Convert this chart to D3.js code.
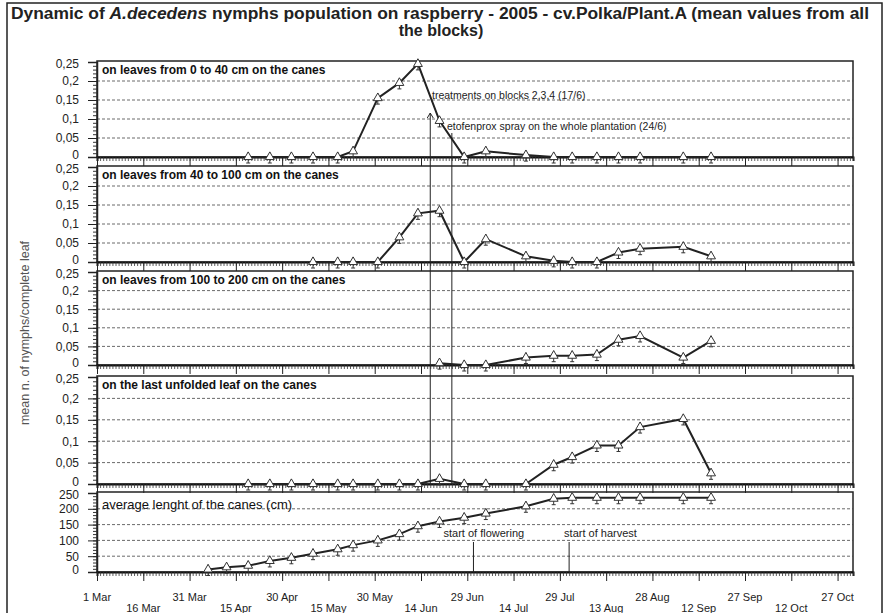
<!DOCTYPE html>
<html>
<head>
<meta charset="utf-8">
<script src="https://cdn.jsdelivr.net/npm/d3@7"></script>
<style>
  body { margin: 0; background: #fff; }
  text { font-family: "Liberation Sans", Arial, sans-serif; }
</style>
</head>
<body>
<div id="chart"></div>
<script>
// sampling dates (2005)
const sampleDates = ["2005-04-06","2005-04-12","2005-04-19","2005-04-26","2005-05-03","2005-05-10",
  "2005-05-18","2005-05-23","2005-05-31","2005-06-07","2005-06-13","2005-06-20","2005-06-28",
  "2005-07-05","2005-07-18","2005-07-27","2005-08-02","2005-08-10","2005-08-17","2005-08-24",
  "2005-09-07","2005-09-16"];

// mean n. of nymphs per leaf, by leaf position (null = not sampled)
const leaves0to40   = [null,null,0,0,0,0,0,0.015,0.155,0.195,0.245,0.095,0,0.015,0.005,0,0,0,0,0,0,0];
const leaves40to100 = [null,null,null,null,null,0,0,0,0,0.065,0.128,0.135,0,0.06,0.015,0.003,0,0,0.025,0.035,0.04,0.015];
const leaves100to200 = [null,null,null,null,null,null,null,null,null,null,null,0.005,0,0,0.02,0.025,0.025,0.028,0.068,0.078,0.02,0.065];
const lastLeaf      = [null,null,0,0,0,0,0,0,0,0,0,0.012,0,0,0,0.045,0.063,0.09,0.09,0.133,0.152,0.025];
// average length of the canes (cm)
const caneLength    = [8,15,20,35,45,58,72,85,100,120,145,160,172,185,208,232,235,235,235,235,235,235];

const tickLabels = ["1 Mar","16 Mar","31 Mar","15 Apr","30 Apr","15 May","30 May","14 Jun","29 Jun",
  "14 Jul","29 Jul","13 Aug","28 Aug","12 Sep","27 Sep","12 Oct","27 Oct"];

const nymphTicks = [0, 0.05, 0.1, 0.15, 0.2, 0.25];
const caneTicks = [0, 50, 100, 150, 200, 250];

const treatmentDates = ["2005-06-17", "2005-06-24"];
const phenologyDates = ["2005-07-01", "2005-08-01"];

const parse = d3.utcParse("%Y-%m-%d");
const start = parse("2005-03-01");

const width = 887, height = 613;
const svg = d3.select("#chart").append("svg")
  .attr("width", width).attr("height", height);

// outer frame
svg.append("rect")
  .attr("x", 7).attr("y", 3).attr("width", 875).attr("height", 620)
  .attr("fill", "none").attr("stroke", "#222").attr("stroke-width", 1.5);

// title
const title = svg.append("text")
  .attr("x", 440).attr("y", 19).attr("text-anchor", "middle")
  .attr("textLength", 858).attr("lengthAdjust", "spacingAndGlyphs")
  .style("font-size", "16px").style("font-weight", "bold").attr("fill", "#222");
title.append("tspan").text("Dynamic of ");
title.append("tspan").style("font-style", "italic").text("A.decedens");
title.append("tspan").text(" nymphs population on raspberry - 2005 - cv.Polka/Plant.A (mean values from all");
svg.append("text")
  .attr("x", 441).attr("y", 36).attr("text-anchor", "middle")
  .style("font-size", "16px").style("font-weight", "bold").attr("fill", "#222")
  .text("the blocks)");

const x = d3.scaleUtc()
  .domain([start, d3.utcDay.offset(start, 245)])
  .range([97, 853]);

const dayTicks = d3.range(0, 246).map(i => d3.utcDay.offset(start, i));
const majorTicks = tickLabels.map((l, i) => d3.utcDay.offset(start, i * 15));

const panels = [
  {label: "on leaves from 0 to 40 cm on the canes", values: leaves0to40, top: 62, bottom: 157, max: 0.25, ticks: nymphTicks, bold: true},
  {label: "on leaves from 40 to 100 cm on the canes", values: leaves40to100, top: 167, bottom: 262, max: 0.25, ticks: nymphTicks, bold: true},
  {label: "on leaves from 100 to 200 cm on the canes", values: leaves100to200, top: 272, bottom: 365, max: 0.25, ticks: nymphTicks, bold: true},
  {label: "on the last unfolded leaf on the canes", values: lastLeaf, top: 377, bottom: 484, max: 0.25, ticks: nymphTicks, bold: true},
  {label: "average lenght of the canes (cm)", values: caneLength, top: 493, bottom: 572, max: 250, ticks: caneTicks, bold: false}
];

const fmt = d => d === 0 ? "0" : String(d).replace(".", ",");

panels.forEach((p, pi) => {
  const y = d3.scaleLinear().domain([0, p.max]).range([p.bottom, p.top]);
  const g = svg.append("g");

  // frame
  g.append("rect")
    .attr("x", x.range()[0]).attr("y", p.top - 1)
    .attr("width", x.range()[1] - x.range()[0]).attr("height", p.bottom - p.top + 1)
    .attr("fill", "none").attr("stroke", "#222").attr("stroke-width", 1.5);

  // dashed grid
  g.selectAll(".grid").data(p.ticks.slice(1, -1)).enter().append("line")
    .attr("x1", x.range()[0]).attr("x2", x.range()[1])
    .attr("y1", d => y(d)).attr("y2", d => y(d))
    .attr("stroke", "#444").attr("stroke-width", 0.8).attr("stroke-dasharray", "3,2");

  // y axis: minor ruler + major ticks
  const minor = d3.range(0, p.max + p.max / 1000, p.max / 25);
  g.append("g").attr("transform", `translate(${x.range()[0]},0)`)
    .call(d3.axisLeft(y).tickValues(minor).tickSize(4).tickFormat(""))
    .call(a => a.select(".domain").remove())
    .selectAll("line").attr("stroke", "#333");
  g.append("g").attr("transform", `translate(${x.range()[0]},0)`)
    .call(d3.axisLeft(y).tickValues(p.ticks).tickSize(9).tickPadding(9).tickFormat(fmt))
    .call(a => a.select(".domain").attr("stroke", "#222").attr("stroke-width", 1.5))
    .call(a => a.selectAll("text").style("font-size", "12px").attr("fill", "#222")
      .style("font-family", "'Liberation Sans', Arial, sans-serif")
      .attr("dy", d => d === 0 ? "0.12em" : (d === p.max ? "0.48em" : "0.32em")))
    .selectAll("line").attr("stroke", "#222");

  // x axis ruler
  g.append("g").attr("transform", `translate(0,${p.bottom})`)
    .call(d3.axisBottom(x).tickValues(dayTicks).tickSize(4).tickFormat(""))
    .call(a => a.select(".domain").attr("stroke", "#111").attr("stroke-width", 2))
    .selectAll("line").attr("stroke", "#333").attr("stroke-width", 0.8);
  g.append("g").attr("transform", `translate(0,${p.bottom})`)
    .call(d3.axisBottom(x).tickValues(majorTicks).tickSize(9).tickFormat(""))
    .call(a => a.select(".domain").remove())
    .selectAll("line").attr("stroke", "#222");

  // panel label
  g.append("text")
    .attr("x", 102).attr("y", p.top + (pi === 4 ? 16 : 12))
    .style("font-size", p.bold ? "12px" : "13px")
    .style("font-weight", p.bold ? "bold" : "normal")
    .attr("fill", "#111")
    .text(p.label);

  const pts = sampleDates.map((d, i) => ({date: parse(d), v: p.values[i]})).filter(d => d.v != null);

  g.append("path").datum(pts)
    .attr("fill", "none").attr("stroke", "#222").attr("stroke-width", 2)
    .attr("d", d3.line().x(d => x(d.date)).y(d => y(d.v)));

  const mk = g.selectAll(".mk").data(pts).enter().append("g")
    .attr("transform", d => `translate(${x(d.date)},${y(d.v)})`);
  mk.append("line").attr("y1", -5).attr("y2", 6).attr("stroke", "#333").attr("stroke-width", 1);
  mk.append("line").attr("x1", -2).attr("x2", 2).attr("y1", 6).attr("y2", 6).attr("stroke", "#333");
  mk.append("path")
    .attr("d", d3.symbol(d3.symbolTriangle).size(34))
    .attr("fill", "#fff").attr("stroke", "#333").attr("stroke-width", 1);
});

// treatment lines across nymph panels
const tStart = [113, 133];
treatmentDates.forEach((d, i) => {
  svg.append("line")
    .attr("x1", x(parse(d))).attr("x2", x(parse(d)))
    .attr("y1", tStart[i]).attr("y2", 484)
    .attr("stroke", "#222").attr("stroke-width", 1);
});
svg.append("path")
  .attr("d", `M${x(parse(treatmentDates[0])) - 3},${tStart[0] + 5}L${x(parse(treatmentDates[0]))},${tStart[0]}L${x(parse(treatmentDates[0])) + 3},${tStart[0] + 5}`)
  .attr("fill", "none").attr("stroke", "#222");
svg.append("text").attr("x", 432).attr("y", 99)
  .style("font-size", "10.5px").attr("fill", "#222")
  .text("treatments on blocks 2,3,4 (17/6)");
svg.append("text").attr("x", 447).attr("y", 130)
  .style("font-size", "10.5px").attr("fill", "#222")
  .text("etofenprox spray on the whole plantation (24/6)");

// phenology lines in cane panel
const phLabels = ["start of flowering", "start of harvest"];
phenologyDates.forEach((d, i) => {
  const px = x(parse(d));
  svg.append("line").attr("x1", px).attr("x2", px).attr("y1", 542).attr("y2", 572)
    .attr("stroke", "#222").attr("stroke-width", 1);
  svg.append("text").attr("x", px - (i === 0 ? 30 : 5)).attr("y", 537)
    .style("font-size", "11px").attr("fill", "#222")
    .text(phLabels[i]);
});

// bottom date labels in two rows
svg.selectAll(".xl").data(majorTicks).enter().append("text")
  .attr("x", d => x(d)).attr("y", (d, i) => i % 2 === 0 ? 601 : 612)
  .attr("text-anchor", "middle")
  .style("font-size", "11px").attr("fill", "#222")
  .text((d, i) => tickLabels[i]);

// y axis title
svg.append("text")
  .attr("transform", "translate(29,333) rotate(-90)")
  .attr("text-anchor", "middle")
  .style("font-size", "12.5px").attr("fill", "#555")
  .text("mean n. of nymphs/complete leaf");
</script>
</body>
</html>
